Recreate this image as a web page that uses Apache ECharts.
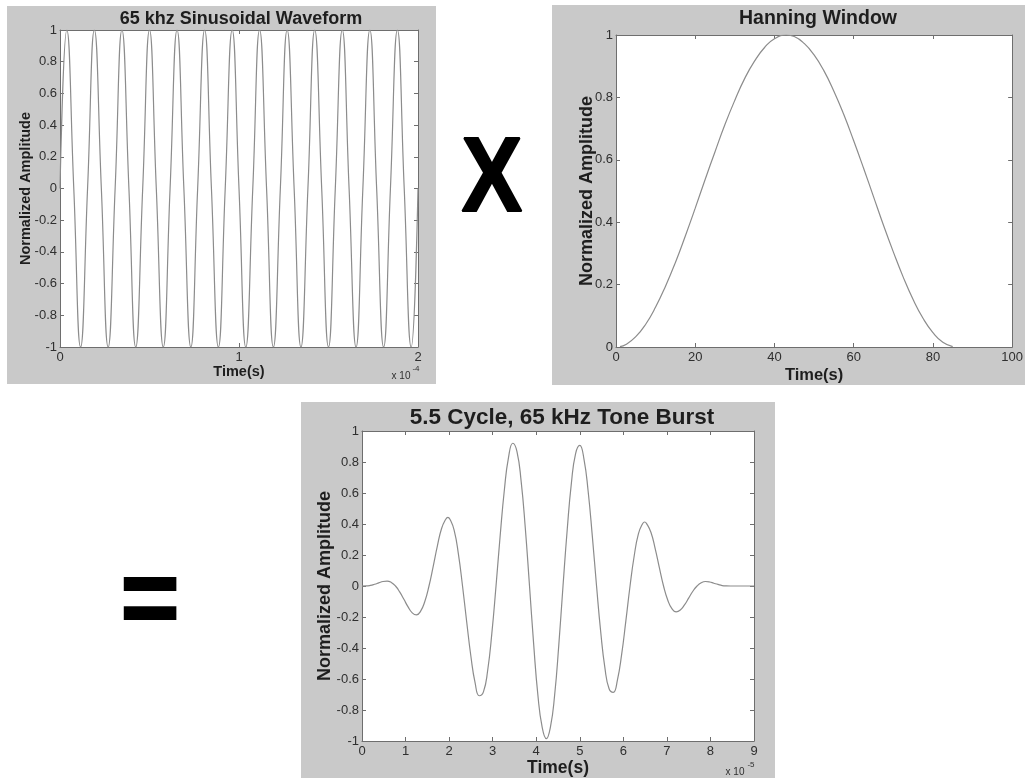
<!DOCTYPE html>
<html>
<head>
<meta charset="utf-8">
<script src="https://cdn.jsdelivr.net/npm/echarts@6/dist/echarts.min.js"></script>
<style>
html,body{margin:0;padding:0;background:#fff;}
#chart{width:1026px;height:778px;}
</style>
</head>
<body>
<div id="chart"></div>
<script>
// ---- Data ----
// Panel 1: 65 kHz sinusoid, time in units of 1e-4 s
const sinTime = [0, 0.038, 0.077, 0.115, 0.154, 0.192, 0.231, 0.269, 0.308, 0.346, 0.385, 0.423, 0.462, 0.500,
  0.538, 0.577, 0.615, 0.654, 0.692, 0.731, 0.769, 0.808, 0.846, 0.885, 0.923, 0.962, 1.000,
  1.038, 1.077, 1.115, 1.154, 1.192, 1.231, 1.269, 1.308, 1.346, 1.385, 1.423, 1.462, 1.500,
  1.538, 1.577, 1.615, 1.654, 1.692, 1.731, 1.769, 1.808, 1.846, 1.885, 1.923, 1.962, 2.000];
const sinAmp = [0, 1, 0, -1, 0, 1, 0, -1, 0, 1, 0, -1, 0, 1, 0, -1, 0, 1, 0, -1, 0, 1, 0, -1, 0, 1, 0,
  -1, 0, 1, 0, -1, 0, 1, 0, -1, 0, 1, 0, -1, 0, 1, 0, -1, 0, 1, 0, -1, 0, 1, 0, -1, 0];

// Panel 2: Hanning window (sample index vs amplitude)
const hannX = [1, 2.5, 5, 7.5, 10, 12.5, 15, 17.5, 20, 22.5, 25, 27.5, 30, 32.5, 35, 37.5, 40, 43,
  45, 47.5, 50, 52.5, 55, 57.5, 60, 62.5, 65, 67.5, 70, 72.5, 75, 77.5, 80, 82.5, 85];
const hannY = [0.001, 0.008, 0.033, 0.073, 0.128, 0.195, 0.271, 0.356, 0.445, 0.537, 0.626, 0.713, 0.791, 0.861, 0.917, 0.960, 0.988, 1.0,
  0.995, 0.973, 0.936, 0.885, 0.820, 0.745, 0.661, 0.573, 0.482, 0.391, 0.305, 0.224, 0.152, 0.092, 0.046, 0.015, 0.001];

// Panel 3: 5.5 cycle tone burst, time in units of 1e-5 s
const burstTime = [0, 0.096, 0.192, 0.288, 0.385, 0.481, 0.577, 0.673, 0.769, 0.865, 0.962, 1.058,
  1.154, 1.250, 1.346, 1.442, 1.538, 1.635, 1.731, 1.827, 1.923, 1.971, 2.019, 2.115, 2.212,
  2.308, 2.404, 2.500, 2.596, 2.692, 2.788, 2.885, 2.981, 3.077, 3.173, 3.269, 3.365,
  3.462, 3.558, 3.654, 3.750, 3.846, 3.942, 4.038, 4.135, 4.231, 4.327, 4.423, 4.519,
  4.615, 4.712, 4.808, 4.904, 5.000, 5.096, 5.192, 5.288, 5.385, 5.481, 5.577, 5.673,
  5.769, 5.865, 5.962, 6.058, 6.154, 6.250, 6.346, 6.442, 6.490, 6.538, 6.635, 6.731, 6.827,
  6.923, 7.019, 7.115, 7.212, 7.308, 7.404, 7.500, 7.596, 7.692, 7.788, 7.885, 7.981,
  8.077, 8.173, 8.269, 8.365, 8.462, 9.000];
const burstAmp = [0, 0.0005, 0.004, 0.011, 0.020, 0.029, 0.032, 0.023, 0, -0.038, -0.086, -0.135,
  -0.173, -0.186, -0.162, -0.100, 0, 0.127, 0.259, 0.371, 0.431, 0.443, 0.431, 0.361, 0.209,
  0, -0.232, -0.453, -0.623, -0.708, -0.683, -0.545, -0.306, 0, 0.327, 0.621, 0.832,
  0.921, 0.867, 0.675, 0.371, 0, -0.378, -0.703, -0.909, -0.985, -0.909, -0.703, -0.378,
  0, 0.365, 0.665, 0.854, 0.907, 0.819, 0.611, 0.322, 0, -0.297, -0.528, -0.663,
  -0.686, -0.605, -0.440, -0.225, 0, 0.195, 0.336, 0.402, 0.413, 0.401, 0.345, 0.241, 0.118,
  0, -0.090, -0.146, -0.167, -0.155, -0.122, -0.078, -0.034, 0, 0.021, 0.029, 0.026,
  0.018, 0.010, 0.003, 0.0005, 0, 0];

// Titles and labels
const titles = ['65 khz Sinusoidal Waveform', 'Hanning Window', '5.5 Cycle, 65 kHz Tone Burst'];
const yName = 'Normalized Amplitude';
const xName = 'Time(s)';

// ---- Styles ----
const FONT = '"Liberation Sans", Arial, sans-serif';
const PANEL_GRAY = '#c9c9c9';
const AXIS_COLOR = '#6e6e6e';
const LINE_COLOR = '#8c8c8c';
const LABEL_COLOR = '#2f2f2f';

function pairs(xs, ys) { return xs.map((x, i) => [x, ys[i]]); }

function xAx(grid, min, max, interval, pos, nameGap, nameSize) {
  const main = pos === 'bottom';
  return {
    type: 'value', gridIndex: grid, position: pos, min, max, interval,
    name: main ? xName : '', nameLocation: 'middle', nameGap: nameGap || 0,
    nameTextStyle: { fontFamily: FONT, fontWeight: 'bold', fontSize: nameSize || 13, color: '#1e1e1e' },
    axisLine: { show: true, onZero: false, lineStyle: { color: AXIS_COLOR, width: 1 } },
    axisTick: { show: true, inside: true, length: 4, lineStyle: { color: AXIS_COLOR } },
    axisLabel: { show: main, margin: 4, fontFamily: FONT, fontSize: 13, color: LABEL_COLOR },
    splitLine: { show: false }
  };
}
function yAx(grid, min, max, interval, pos, nameGap, nameSize) {
  const main = pos === 'left';
  return {
    type: 'value', gridIndex: grid, position: pos, min, max, interval,
    name: main ? yName : '', nameLocation: 'middle', nameGap: nameGap || 0, nameRotate: 90,
    nameMoveOverlap: false,
    nameTextStyle: { fontFamily: FONT, fontWeight: 'bold', fontSize: nameSize || 13, color: '#1e1e1e' },
    axisLine: { show: true, onZero: false, lineStyle: { color: AXIS_COLOR, width: 1 } },
    axisTick: { show: true, inside: true, length: 4, lineStyle: { color: AXIS_COLOR } },
    axisLabel: { show: main, margin: 3, fontFamily: FONT, fontSize: 13, color: LABEL_COLOR },
    splitLine: { show: false }
  };
}
function lineSeries(xi, data) {
  return {
    type: 'line', xAxisIndex: xi, yAxisIndex: xi, data, smooth: 0.5, showSymbol: false,
    lineStyle: { color: LINE_COLOR, width: 1.2 }, animation: false, silent: true
  };
}

const chart = echarts.init(document.getElementById('chart'), null, { renderer: 'canvas' });
chart.setOption({
  animation: false,
  backgroundColor: '#ffffff',
  title: [
    { text: titles[0], left: 236, top: 5, textAlign: 'center', textStyle: { fontFamily: FONT, fontWeight: 'bold', fontSize: 18, color: '#1e1e1e' } },
    { text: titles[1], left: 813, top: 4, textAlign: 'center', textStyle: { fontFamily: FONT, fontWeight: 'bold', fontSize: 19.5, color: '#1e1e1e' } },
    { text: titles[2], left: 557, top: 401, textAlign: 'center', textStyle: { fontFamily: FONT, fontWeight: 'bold', fontSize: 22.5, color: '#1e1e1e' } }
  ],
  grid: [
    { left: 60, top: 30, width: 358, height: 317, show: true, backgroundColor: '#fff', borderWidth: 0 },
    { left: 616, top: 35, width: 397, height: 312, show: true, backgroundColor: '#fff', borderWidth: 0 },
    { left: 362, top: 431, width: 392, height: 312, show: true, backgroundColor: '#fff', borderWidth: 0 }
  ],
  xAxis: [
    xAx(0, 0, 2, 1, 'bottom', 16, 14.5),
    xAx(0, 0, 2, 1, 'top'),
    xAx(1, 0, 100, 20, 'bottom', 20, 16.5),
    xAx(1, 0, 100, 20, 'top'),
    xAx(2, 0, 9, 1, 'bottom', 18, 17.5),
    xAx(2, 0, 9, 1, 'top')
  ],
  yAxis: [
    yAx(0, -1, 1, 0.2, 'left', 27, 14.5),
    yAx(0, -1, 1, 0.2, 'right'),
    yAx(1, 0, 1, 0.2, 'left', 20, 18),
    yAx(1, 0, 1, 0.2, 'right'),
    yAx(2, -1, 1, 0.2, 'left', 28, 18),
    yAx(2, -1, 1, 0.2, 'right')
  ],
  series: [
    lineSeries(0, pairs(sinTime, sinAmp)),
    lineSeries(2, pairs(hannX, hannY)),
    lineSeries(4, pairs(burstTime, burstAmp))
  ],
  graphic: [
    { type: 'rect', z: -10, shape: { x: 7, y: 6, width: 429, height: 378 }, style: { fill: PANEL_GRAY } },
    { type: 'rect', z: -10, shape: { x: 552, y: 5, width: 473, height: 380 }, style: { fill: PANEL_GRAY } },
    { type: 'rect', z: -10, shape: { x: 301, y: 402, width: 474, height: 376 }, style: { fill: PANEL_GRAY } },
    { type: 'text', z: 100, x: 401, y: 376, style: { text: 'x 10', font: '10px ' + FONT, fill: LABEL_COLOR, textAlign: 'center', textVerticalAlign: 'middle' } },
    { type: 'text', z: 100, x: 416, y: 369, style: { text: '-4', font: '8px ' + FONT, fill: LABEL_COLOR, textAlign: 'center', textVerticalAlign: 'middle' } },
    { type: 'text', z: 100, x: 735, y: 772, style: { text: 'x 10', font: '10px ' + FONT, fill: LABEL_COLOR, textAlign: 'center', textVerticalAlign: 'middle' } },
    { type: 'text', z: 100, x: 751, y: 765, style: { text: '-5', font: '8px ' + FONT, fill: LABEL_COLOR, textAlign: 'center', textVerticalAlign: 'middle' } },
    { type: 'text', z: 100, x: 492, y: 182, scaleX: 0.86, style: { text: 'X', font: 'bold 106px ' + FONT, fill: '#000', stroke: '#000', lineWidth: 2, textAlign: 'center', textVerticalAlign: 'middle' } },
    { type: 'text', z: 100, x: 150, y: 605, scaleX: 0.92, style: { text: '=', font: 'bold 110px ' + FONT, fill: '#000', stroke: '#000', lineWidth: 2, lineJoin: 'round', textAlign: 'center', textVerticalAlign: 'middle' } }
  ]
});
</script>
</body>
</html>
